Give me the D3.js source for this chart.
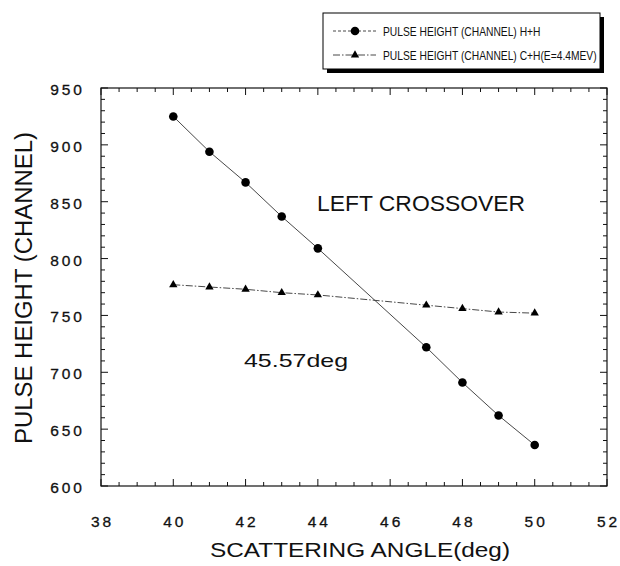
<!DOCTYPE html>
<html>
<head>
<meta charset="utf-8">
<script src="https://cdn.jsdelivr.net/npm/d3@7"></script>
<style>
  body { margin: 0; background: #fff; }
  svg { font-family: "Liberation Sans", Arial, sans-serif; }
</style>
</head>
<body>
<svg id="chart" width="620" height="566"></svg>
<script>
// data
const angles = [40, 41, 42, 43, 44, 47, 48, 49, 50];
const hhValues = [925, 894, 867, 837, 809, 722, 691, 662, 636];
const chValues = [777, 775, 773, 770, 768, 759, 756, 753, 752];
const xTicks = [38, 40, 42, 44, 46, 48, 50, 52];
const yTicks = [600, 650, 700, 750, 800, 850, 900, 950];
const legendLabels = ["PULSE HEIGHT (CHANNEL) H+H", "PULSE HEIGHT (CHANNEL) C+H(E=4.4MEV)"];

const svg = d3.select('#chart');
const margin = {top: 88, right: 13, bottom: 80, left: 101};
const width = 620 - margin.left - margin.right;
const height = 566 - margin.top - margin.bottom;

const x = d3.scaleLinear().domain([38, 52]).range([0, width]);
const y = d3.scaleLinear().domain([600, 950]).range([height, 0]);

const g = svg.append('g').attr('transform', `translate(${margin.left},${margin.top})`);

// frame
g.append('rect').attr('width', width).attr('height', height)
  .attr('fill', 'none').attr('stroke', '#111').attr('stroke-width', 1.2);

// ticks: inward, on all four sides
const xMinor = d3.range(38, 52.01, 0.5);
const yMinor = d3.range(600, 950.1, 10);
const tickLen = major => major ? 7 : 4;

g.selectAll('.xt').data(xMinor).join('line')
  .attr('x1', d => x(d)).attr('x2', d => x(d))
  .attr('y1', height).attr('y2', d => height - tickLen(d % 2 === 0))
  .attr('stroke', '#111');
g.selectAll('.xtt').data(xMinor).join('line')
  .attr('x1', d => x(d)).attr('x2', d => x(d))
  .attr('y1', 0).attr('y2', d => tickLen(d % 2 === 0))
  .attr('stroke', '#111');
g.selectAll('.yt').data(yMinor).join('line')
  .attr('y1', d => y(d)).attr('y2', d => y(d))
  .attr('x1', 0).attr('x2', d => tickLen(d % 50 === 0))
  .attr('stroke', '#111');
g.selectAll('.ytr').data(yMinor).join('line')
  .attr('y1', d => y(d)).attr('y2', d => y(d))
  .attr('x1', width).attr('x2', d => width - tickLen(d % 50 === 0))
  .attr('stroke', '#111');

// tick labels
g.selectAll('.xl').data(xTicks).join('text')
  .attr('x', d => x(d) + 1.5).attr('y', height + 41)
  .attr('text-anchor', 'middle').attr('font-size', 15.5).attr('letter-spacing', 3)
  .attr('fill', '#111').attr('stroke', '#111').attr('stroke-width', 0.3).text(d => d);
g.selectAll('.yl').data(yTicks).join('text')
  .attr('x', -16).attr('y', d => y(d) + 7)
  .attr('text-anchor', 'end').attr('font-size', 15.5).attr('letter-spacing', 3)
  .attr('fill', '#111').attr('stroke', '#111').attr('stroke-width', 0.3).text(d => d);

// axis titles
svg.append('text').attr('x', 210).attr('y', 557)
  .attr('font-size', 21).attr('textLength', 300).attr('lengthAdjust', 'spacingAndGlyphs')
  .attr('fill', '#111').text('SCATTERING ANGLE(deg)');
svg.append('text').attr('transform', 'translate(32,444) rotate(-90)')
  .attr('font-size', 23).attr('textLength', 312).attr('lengthAdjust', 'spacingAndGlyphs')
  .attr('fill', '#111').text('PULSE HEIGHT (CHANNEL)');

// lines
const line = d3.line().x(d => x(d[0])).y(d => y(d[1]));
const hh = angles.map((a, i) => [a, hhValues[i]]);
const ch = angles.map((a, i) => [a, chValues[i]]);

g.append('path').datum(hh).attr('d', line)
  .attr('fill', 'none').attr('stroke', '#333').attr('stroke-width', 0.9);
g.append('path').datum(ch).attr('d', line)
  .attr('fill', 'none').attr('stroke', '#333').attr('stroke-width', 0.9)
  .attr('stroke-dasharray', '7,2,1.5,2');

const tri = d3.symbol().type(d3.symbolTriangle).size(30);

g.selectAll('.hh').data(hh).join('circle')
  .attr('cx', d => x(d[0])).attr('cy', d => y(d[1])).attr('r', 4.3).attr('fill', '#000');
g.selectAll('.ch').data(ch).join('path')
  .attr('d', tri).attr('transform', d => `translate(${x(d[0])},${y(d[1])})`).attr('fill', '#000');

// annotations
g.append('text').attr('x', 216).attr('y', 123).attr('font-size', 22)
  .attr('textLength', 208).attr('lengthAdjust', 'spacingAndGlyphs')
  .attr('fill', '#111').text('LEFT  CROSSOVER');
g.append('text').attr('x', 143).attr('y', 279).attr('font-size', 19)
  .attr('textLength', 104).attr('lengthAdjust', 'spacingAndGlyphs')
  .attr('fill', '#111').text('45.57deg');

// legend
const legendX = 323, legendW = 277, textX = 60;
const lg = svg.append('g').attr('transform', `translate(${legendX},13)`);
lg.append('rect').attr('x', 4).attr('y', 4).attr('width', legendW).attr('height', 56).attr('fill', '#000');
lg.append('rect').attr('width', legendW).attr('height', 56).attr('fill', '#fff')
  .attr('stroke', '#000').attr('stroke-width', 1);
legendLabels.forEach((label, i) => {
  const ly = 18 + i * 24;
  lg.append('line').attr('x1', 10).attr('x2', 53).attr('y1', ly).attr('y2', ly)
    .attr('stroke', '#333').attr('stroke-width', 0.9)
    .attr('stroke-dasharray', i === 0 ? '3,2' : '7,2,1.5,2');
  if (i === 0) {
    lg.append('circle').attr('cx', 32).attr('cy', ly).attr('r', 4.3).attr('fill', '#000');
  } else {
    lg.append('path').attr('d', tri).attr('transform', `translate(32,${ly})`).attr('fill', '#000');
  }
  // condensed legend font
  lg.append('text').attr('transform', `translate(${textX},${ly + 4.5}) scale(0.79,1)`)
    .attr('font-size', 13).attr('fill', '#111').text(label);
});
</script>
</body>
</html>
